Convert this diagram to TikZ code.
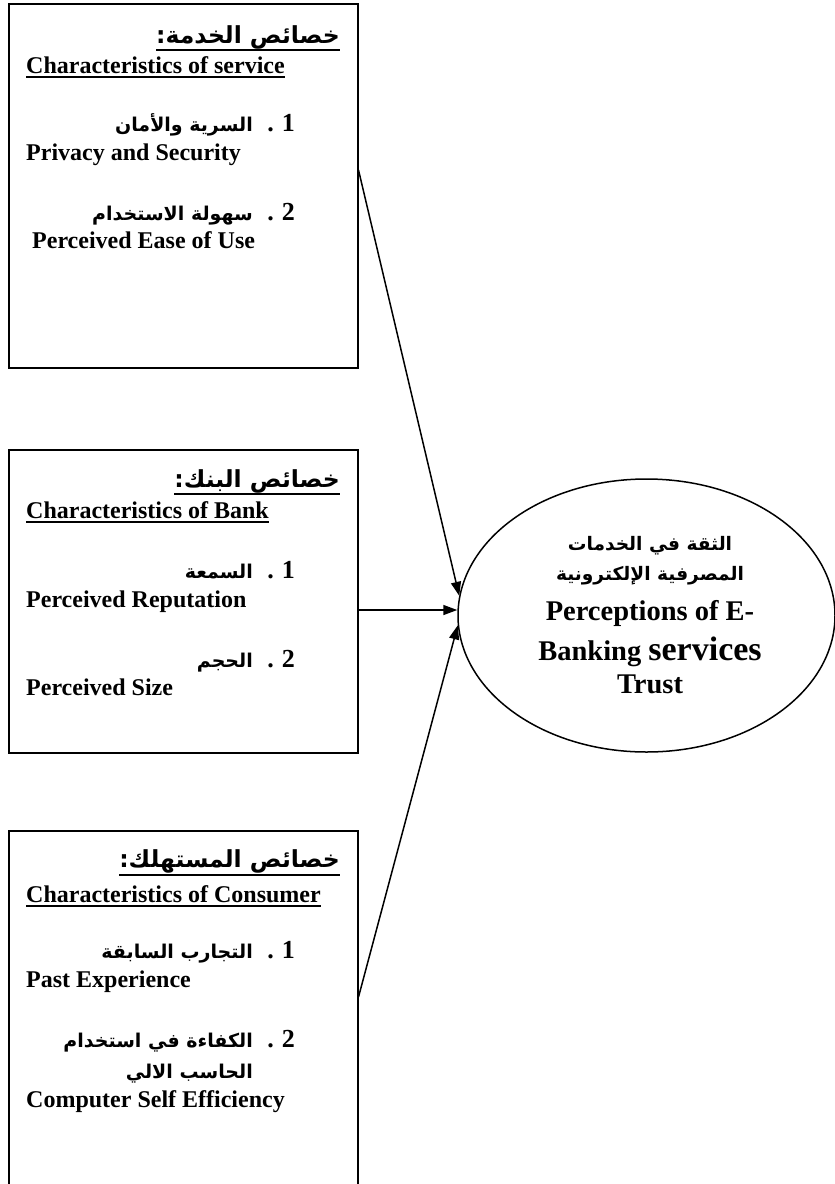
\documentclass[tikz,border=0pt]{standalone}
\usepackage{fontspec}
\setmainfont{Liberation Serif}
\newfontfamily\arfont[Script=Arabic]{DejaVu Sans}
\TeXXeTstate=1
\usetikzlibrary{shapes.geometric,arrows.meta}

\tikzset{
  frame/.style={draw, line width=1.5pt, rectangle, anchor=north west, inner sep=0pt},
  entxt/.style={font=\bfseries\fontsize{24}{28}\selectfont, inner sep=0pt, anchor=base west},
  artitle/.style={font=\arfont\bfseries\fontsize{23.5}{27}\selectfont, inner sep=0pt, anchor=base east},
  aritem/.style={font=\arfont\bfseries\fontsize{19}{23}\selectfont, inner sep=0pt, anchor=base east},
  numtxt/.style={font=\bfseries\fontsize{26}{30}\selectfont, inner sep=0pt, anchor=base east},
  ctrar/.style={font=\arfont\bfseries\fontsize{18.6}{22}\selectfont, inner sep=0pt, anchor=base},
  ctren/.style={font=\bfseries\fontsize{28.5}{32}\selectfont, inner sep=0pt, anchor=base},
  uline/.style={line width=2pt},
  link/.style={line width=1.5pt, -{Triangle[length=14pt,width=10pt]}}
}

\begin{document}
\begin{tikzpicture}[x=1pt,y=-1pt]
\useasboundingbox (0,0) rectangle (835,1184);
\clip (0,0) rectangle (835,1184);

% ---- service characteristics ----
\node[frame, minimum width=349pt, minimum height=364pt] (svc) at (8,3) {};
\node[artitle] (t1) at (340,43) {\beginR خصائص الخدمة:\endR};
\draw[uline] ([yshift=-7pt]t1.base west) -- ([yshift=-7pt]t1.base east);
\node[entxt] (s1) at (26,73) {Characteristics of service};
\draw[uline] ([yshift=-4pt]s1.base west) -- ([yshift=-4pt]s1.base east);
\node[numtxt] (n11) at (295,131) {.\kern8pt1};
\node[aritem] (a11) at (253,131) {\beginR السرية والأمان\endR};
\node[entxt] (e11) at (26,160) {Privacy and Security};
\node[numtxt] (n12) at (295,220) {.\kern8pt2};
\node[aritem] (a12) at (253,220) {\beginR سهولة الاستخدام\endR};
\node[entxt] (e12) at (32,248) {Perceived Ease of Use};

% ---- bank characteristics ----
\node[frame, minimum width=349pt, minimum height=303pt] (bank) at (8,449) {};
\node[artitle] (t2) at (340,487) {\beginR خصائص البنك:\endR};
\draw[uline] ([yshift=-7pt]t2.base west) -- ([yshift=-7pt]t2.base east);
\node[entxt] (s2) at (26,518) {Characteristics of Bank};
\draw[uline] ([yshift=-4pt]s2.base west) -- ([yshift=-4pt]s2.base east);
\node[numtxt] (n21) at (295,578) {.\kern8pt1};
\node[aritem] (a21) at (253,578) {\beginR السمعة\endR};
\node[entxt] (e21) at (26,607) {Perceived Reputation};
\node[numtxt] (n22) at (295,667) {.\kern8pt2};
\node[aritem] (a22) at (253,667) {\beginR الحجم\endR};
\node[entxt] (e22) at (26,695) {Perceived Size};

% ---- consumer characteristics ----
\node[frame, minimum width=349pt, minimum height=420pt] (cons) at (8,830) {};
\node[artitle] (t3) at (340,867) {\beginR خصائص المستهلك:\endR};
\draw[uline] ([yshift=-8pt]t3.base west) -- ([yshift=-8pt]t3.base east);
\node[entxt] (s3) at (26,902) {Characteristics of Consumer};
\draw[uline] ([yshift=-4pt]s3.base west) -- ([yshift=-4pt]s3.base east);
\node[numtxt] (n31) at (295,958) {.\kern8pt1};
\node[aritem] (a31) at (253,958) {\beginR التجارب السابقة\endR};
\node[entxt] (e31) at (26,987) {Past Experience};
\node[numtxt] (n32) at (295,1047) {.\kern8pt2};
\node[aritem] (a32) at (253,1047) {\beginR الكفاءة في استخدام\endR};
\node[aritem] (a32b) at (253,1078) {\beginR الحاسب الالي\endR};
\node[entxt] (e32) at (26,1107) {Computer Self Efficiency};

% ---- trust ellipse ----
\node[draw, ellipse, line width=1.5pt, minimum width=377pt, minimum height=273pt, inner sep=0pt]
  (trust) at (646.5,615.5) {};
\node[ctrar] (c1) at (650,550) {\beginR الثقة في الخدمات\endR};
\node[ctrar] (c2) at (650,580) {\beginR المصرفية الإلكترونية\endR};
\node[ctren] (c3) at (650,620) {Perceptions of E-};
\node[ctren] (c4) at (650,660) {Banking {\fontsize{34}{38}\selectfont services}};
\node[ctren] (c5) at (650,693) {Trust};

% ---- influences ----
\coordinate (o1) at (svc.east |- 0,170);
\coordinate (o2) at (bank.east |- 0,610);
\coordinate (o3) at (cons.east |- 0,997);
\draw[link] (o1) -- (trust.174);
\draw[link] (o2) -- (o2 -| trust.west);
\draw[link] (o3) -- (trust.183);
\end{tikzpicture}
\end{document}
